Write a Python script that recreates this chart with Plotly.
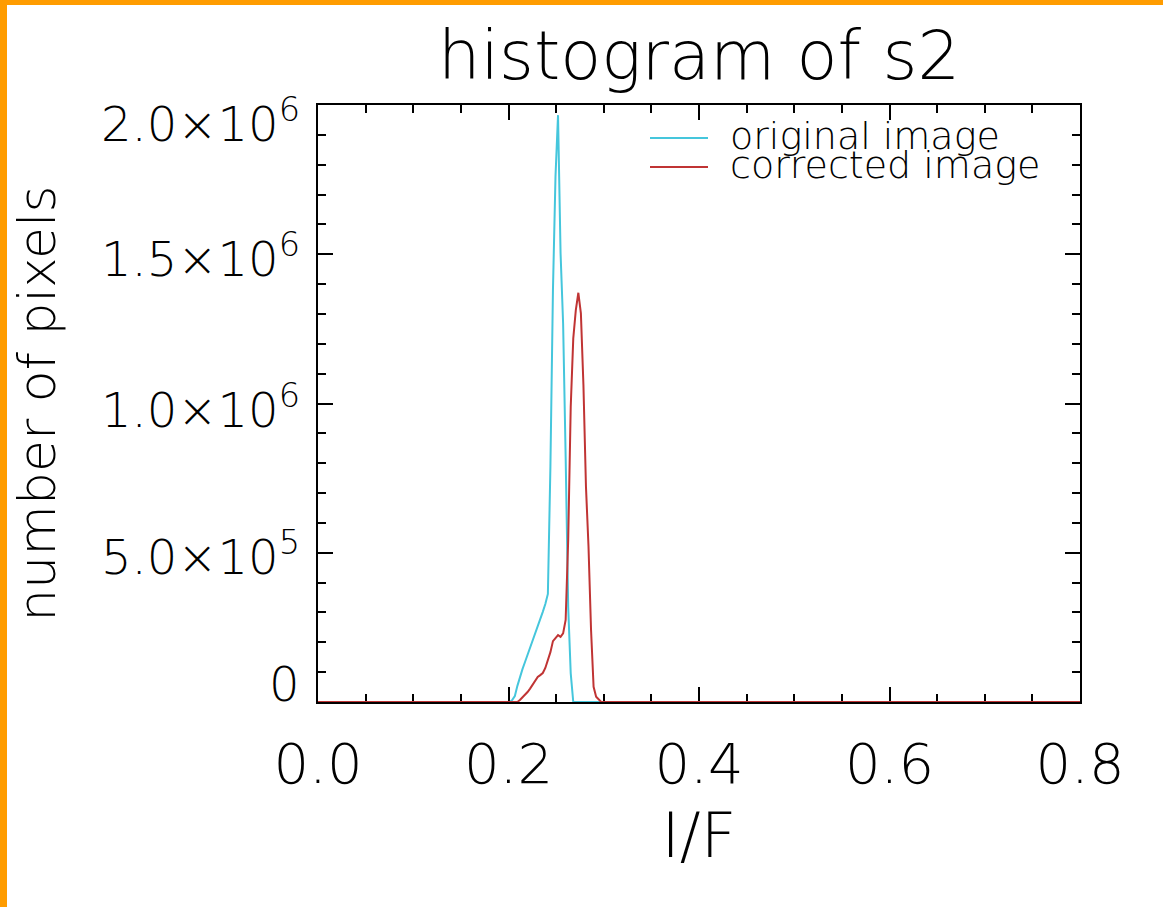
import plotly.graph_objects as go

# ---------------- data ----------------
bin_width = 0.8 / 300          # histogram bin size in I/F
x_min, x_max = 0.0, 0.8

cyan_first_bin = 75
cyan_counts = [0, 7000, 20000, 54000, 85000, 110000, 134000, 157000, 181000,
               203000, 228000, 251000, 278000, 302000, 328000, 362000,
               788000, 1380000, 1760000, 1966000, 1503000, 1269000,
               822000, 319000, 96000, 0]

red_first_bin = 78
red_counts = [0, 6700, 15000, 25000, 33500, 45000, 57000, 72000, 84000,
              90000, 97000, 114000, 137000, 167000, 204000, 216000, 224000,
              218000, 230000, 275000, 543000, 989000, 1218000, 1313000,
              1371000, 1302000, 1062000, 721000, 520000, 241000, 51000,
              18000, 8000, 0]

series_names = ["original image", "corrected image"]
x_tick_vals = [0.0, 0.2, 0.4, 0.6, 0.8]
x_tick_text = ["0.0", "0.2", "0.4", "0.6", "0.8"]
y_tick_vals = [0, 5e5, 1e6, 1.5e6, 2e6]
y_tick_text = ["0", "5.0×10<sup>5</sup>", "1.0×10<sup>6</sup>",
               "1.5×10<sup>6</sup>", "2.0×10<sup>6</sup>"]
# vertical nudges (px) of the y labels, as placed in the original
y_label_nudge = [18, -1, -3, -2, -16]


def series(first_bin, counts):
    xs = [x_min] + [(first_bin + i + 0.5) * bin_width for i in range(len(counts))] + [x_max]
    ys = [0] + list(counts) + [0]
    return xs, ys


# ---------------- style ----------------
W, H = 1163, 907
ML, MR, MT, MB = 318, 83, 105, 205
FONT = "DejaVu Sans"
WT = 200
CYAN = "#45c6dc"
RED = "#c03434"

fig = go.Figure()
cx, cy = series(cyan_first_bin, cyan_counts)
rx, ry = series(red_first_bin, red_counts)
fig.add_trace(go.Scatter(x=cx, y=cy, mode="lines", name=series_names[0],
                         line=dict(color=CYAN, width=2), showlegend=False))
fig.add_trace(go.Scatter(x=rx, y=ry, mode="lines", name=series_names[1],
                         line=dict(color=RED, width=2), showlegend=False))

axis_common = dict(showline=True, linecolor="black", linewidth=2, mirror="ticks",
                   ticks="inside", ticklen=15, tickwidth=2, tickcolor="black",
                   showgrid=False, zeroline=False, automargin=False,
                   layer="below traces")

fig.update_xaxes(range=[x_min, x_max], tickvals=x_tick_vals, ticktext=x_tick_text,
                 tickfont=dict(family=FONT, size=56, color="black", weight=WT),
                 ticklabelstandoff=12,
                 minor=dict(dtick=0.05, ticks="inside", ticklen=8, tickwidth=2,
                            tickcolor="black"),
                 title=dict(text="I/F", font=dict(family=FONT, size=62, color="black", weight=WT),
                            standoff=18),
                 **axis_common)
fig.update_yaxes(range=[0, 2e6], tickvals=y_tick_vals, showticklabels=False,
                 minor=dict(dtick=1e5, ticks="inside", ticklen=8, tickwidth=2,
                            tickcolor="black"),
                 title=dict(text="number of pixels",
                            font=dict(family=FONT, size=52, color="black", weight=WT),
                            standoff=244),
                 **axis_common)

# paper coordinate helpers (pixels -> paper)
PW, PH = W - ML - MR, H - MT - MB
def px(p):
    return (p - ML) / PW
def py(p):
    return (H - MB - p) / PH

shapes = [
    dict(type="rect", xref="paper", yref="paper", x0=px(0), x1=px(7), y0=py(H), y1=py(0),
         fillcolor="#ff9c00", line=dict(width=0), layer="above"),
    dict(type="rect", xref="paper", yref="paper", x0=px(0), x1=px(W), y0=py(5), y1=py(0),
         fillcolor="#ff9c00", line=dict(width=0), layer="above"),
    dict(type="line", xref="paper", yref="paper", x0=px(650), x1=px(708), y0=py(138), y1=py(138),
         line=dict(color=CYAN, width=2)),
    dict(type="line", xref="paper", yref="paper", x0=px(650), x1=px(708), y0=py(167), y1=py(167),
         line=dict(color=RED, width=2)),
]
annotations = [
    dict(text=series_names[0], xref="paper", yref="paper", x=px(728), y=py(136),
         xanchor="left", yanchor="middle", showarrow=False,
         font=dict(family=FONT, size=38, color="black", weight=WT)),
    dict(text=series_names[1], xref="paper", yref="paper", x=px(728), y=py(165),
         xanchor="left", yanchor="middle", showarrow=False,
         font=dict(family=FONT, size=38, color="black", weight=WT)),
]
# y-axis tick labels, placed at their tick values on the y scale
for val, txt, nudge in zip(y_tick_vals, y_tick_text, y_label_nudge):
    annotations.append(dict(text=txt, xref="paper", x=0, xanchor="right", xshift=-16,
                            yref="y", y=val, yanchor="middle", yshift=nudge,
                            showarrow=False,
                            font=dict(family=FONT, size=48, color="black", weight=WT)))

fig.update_layout(
    width=W, height=H,
    margin=dict(l=ML, r=MR, t=MT, b=MB, pad=0),
    paper_bgcolor="white", plot_bgcolor="white",
    title=dict(text="histogram of s2", x=0.5, xref="paper", xanchor="center",
               y=1 - 56 / H, yref="container", yanchor="middle",
               font=dict(family=FONT, size=67, color="black", weight=WT)),
    shapes=shapes, annotations=annotations,
    showlegend=False,
)

fig.write_html("out.html", config={"displayModeBar": False},
               post_script="document.body.style.margin='0';document.body.style.padding='0';")
